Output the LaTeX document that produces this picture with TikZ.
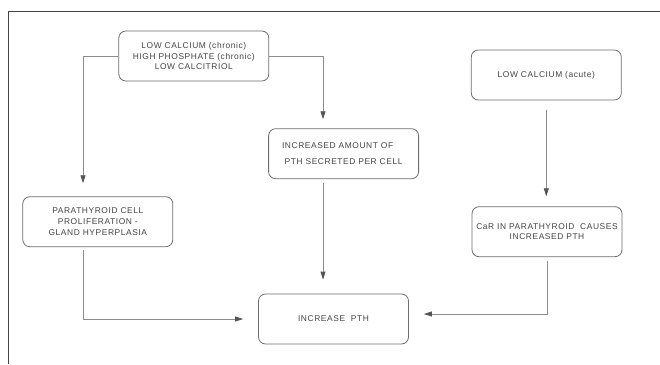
\documentclass[tikz,border=0pt]{standalone}
\usepackage{fontspec}
\setmainfont{Liberation Sans}[LetterSpace=7]
\usetikzlibrary{arrows.meta}
\definecolor{boxline}{HTML}{6E6E6E}
\definecolor{arrline}{HTML}{8C8C8C}
\definecolor{tipcol}{HTML}{555555}
\definecolor{txt}{HTML}{444444}
\definecolor{frame}{HTML}{454545}
\begin{document}
\begin{tikzpicture}[x=1pt,y=-1pt,
  box/.style={draw=boxline,line width=0.8pt,rounded corners=7pt,minimum width=150pt,minimum height=50pt,
    align=center,inner sep=0pt,text=txt,font=\fontsize{8.4}{10.8}\selectfont},
  conn/.style={draw=arrline,line width=0.8pt,-{Triangle[length=8pt,width=5pt,color=tipcol]}}]
\useasboundingbox (0,0) rectangle (660,364);
\fill[white] (0,0) rectangle (660,364);
\draw[frame,line width=1.4pt] (8.5,364) -- (8.5,11.5) -- (660,11.5);

\node[box] (b1) at (193.8,56) {LOW CALCIUM (chronic)\\HIGH PHOSPHATE (chronic)\\LOW CALCITRIOL};
\node[box] (b2) at (97.8,221.7) {PARATHYROID CELL\\PROLIFERATION -\\GLAND HYPERPLASIA};
\node[box,font=\fontsize{8.4}{15.4}\selectfont] (b3) at (343.6,153.7) {INCREASED AMOUNT OF\hspace*{12pt}\\PTH SECRETED PER CELL};
\node[box] (b4) at (546.3,75) {LOW CALCIUM (acute)};
\node[box] (b5) at (547,231.7) {CaR IN PARATHYROID\ \ CAUSES\\INCREASED PTH};
\node[box] (b6) at (333.5,319) {INCREASE\ \ PTH};

\coordinate (c2) at ([xshift=-14.8pt]b2.north);
\coordinate (c2s) at ([xshift=-14.8pt]b2.south);
\coordinate (c3) at ([xshift=-20.6pt]b3.north);
\coordinate (c3s) at ([xshift=-20.6pt]b3.south);
\coordinate (c6e) at ([yshift=5pt]b6.east);

\draw[conn,shorten >=13pt] (b1.west) -| (c2);
\draw[conn,shorten >=9pt] (b1.east) -| (c3);
\draw[conn,shorten <=4pt,shorten >=14pt] (c3s) -- (c3s |- b6.north);
\draw[conn,shorten <=10pt,shorten >=10pt] (b4.south) -- (b4.south |- b5.north);
\draw[conn,shorten <=4pt,shorten >=15pt] (b5.south) |- (c6e);
\draw[conn,shorten <=3pt,shorten >=15pt] (c2s) |- (b6.west);
\end{tikzpicture}
\end{document}
